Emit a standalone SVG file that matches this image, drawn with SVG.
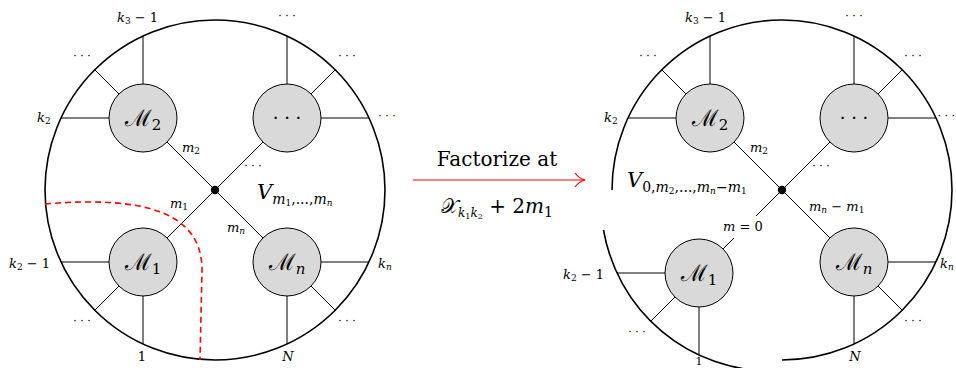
<svg xmlns="http://www.w3.org/2000/svg" width="956" height="368" viewBox="0 0 956 368" font-family="'DejaVu Serif', serif">
<defs>
<style>
.big{fill:none;stroke:#000;stroke-width:1.6}
.nd{fill:#d9d9d9;stroke:#000;stroke-width:1}
.ln{stroke:#000;stroke-width:1;fill:none}
text{font-family:'DejaVu Serif',serif;fill:#000}
.s{font-size:13px}
.i{font-style:italic}
.cal{font-size:23px}
.dots{font-size:11px;text-anchor:middle}
</style>
<marker id="ah" viewBox="0 0 12 16" refX="11" refY="8" markerWidth="12" markerHeight="16" markerUnits="userSpaceOnUse" orient="auto">
<path d="M1,1 C4,5 7,7 11,8 C7,9 4,11 1,15" fill="none" stroke="#f00" stroke-width="1.2"/>
</marker>
</defs>
<rect width="956" height="368" fill="#fff"/>

<!-- LEFT DIAGRAM -->
<g id="left-boundary"><circle class="big" cx="215" cy="190" r="170"/></g>
<g id="left-connectors">
<path class="ln" d="M143,84V36M109,118H61M118.96,93.96L94.8,69.8M167.04,142.04L215,190"/>
<path class="ln" d="M287,84V36M321,118H369M311.04,93.96L335.2,69.8M262.96,142.04L215,190"/>
<path class="ln" d="M109,262H61M143,296V344M118.96,286.04L94.8,310.2M167.04,237.96L215,190"/>
<path class="ln" d="M321,262H369M287,296V344M311.04,286.04L335.2,310.2M262.96,237.96L215,190"/>
<path d="M45,204 C150,195 202,215 202,270 L200,360" fill="none" stroke="#f00" stroke-width="1.6" stroke-dasharray="6,4"/>
</g>
<g id="left-vertex"><circle cx="215" cy="190" r="4.2" fill="#000"/></g>
<g id="left-M2"><circle class="nd" cx="143" cy="118" r="34"/><text x="143" y="126" text-anchor="middle"><tspan class="cal">ℳ</tspan><tspan font-size="15" dy="4">2</tspan></text></g>
<g id="left-Mdots"><circle class="nd" cx="287" cy="118" r="34"/><text x="287" y="124" text-anchor="middle" font-size="18">· · ·</text></g>
<g id="left-M1"><circle class="nd" cx="143" cy="262" r="34"/><text x="143" y="270" text-anchor="middle"><tspan class="cal">ℳ</tspan><tspan font-size="15" dy="4">1</tspan></text></g>
<g id="left-Mn"><circle class="nd" cx="287" cy="262" r="34"/><text x="287" y="270" text-anchor="middle"><tspan class="cal">ℳ</tspan><tspan font-size="15" dy="4" class="i">n</tspan></text></g>
<g id="left-labels">
<text class="s" x="117" y="22"><tspan class="i">k</tspan><tspan font-size="9" dy="2">3</tspan><tspan dy="-2"> − 1</tspan></text>
<text class="dots" x="287" y="20">· · ·</text>
<text class="dots" x="82" y="60">· · ·</text>
<text class="dots" x="347" y="60">· · ·</text>
<text class="dots" x="387" y="120">· · ·</text>
<text class="dots" x="253" y="170">· · ·</text>
<text class="dots" x="82" y="325">· · ·</text>
<text class="dots" x="347" y="325">· · ·</text>
<text class="s" x="37" y="122"><tspan class="i">k</tspan><tspan font-size="9" dy="2">2</tspan></text>
<text class="s" x="182" y="152"><tspan class="i">m</tspan><tspan font-size="9" dy="2">2</tspan></text>
<text class="s" x="170" y="208"><tspan class="i">m</tspan><tspan font-size="9" dy="2">1</tspan></text>
<text class="s" x="227" y="232"><tspan class="i">m</tspan><tspan font-size="9" dy="2" class="i">n</tspan></text>
<text class="s" x="9" y="268"><tspan class="i">k</tspan><tspan font-size="9" dy="2">2</tspan><tspan dy="-2"> − 1</tspan></text>
<text class="s" x="378" y="268"><tspan class="i">k</tspan><tspan font-size="9" dy="2" class="i">n</tspan></text>
<text class="s" x="142" y="361" text-anchor="middle">1</text>
<text class="s i" x="288" y="361" text-anchor="middle">N</text>
<text x="257" y="199"><tspan class="i" font-size="21">V</tspan><tspan font-size="14" dy="5" class="i">m</tspan><tspan font-size="9" dy="2">1</tspan><tspan font-size="14" dy="-2">,...,</tspan><tspan font-size="14" class="i">m</tspan><tspan font-size="9" dy="2" class="i">n</tspan></text>
</g>

<!-- ARROW -->
<g id="arrow">
<line x1="413" y1="180" x2="585" y2="180" stroke="#f00" stroke-width="1.2" marker-end="url(#ah)"/>
<text x="497" y="166" text-anchor="middle" font-size="20">Factorize at</text>
<text x="497" y="213" text-anchor="middle" font-size="20"><tspan>𝒳</tspan><tspan font-size="12" dy="4" class="i">k</tspan><tspan font-size="8" dy="2">1</tspan><tspan font-size="12" dy="-2" class="i">k</tspan><tspan font-size="8" dy="2">2</tspan><tspan dy="-6"> + 2</tspan><tspan class="i">m</tspan><tspan font-size="14" dy="4">1</tspan></text>
</g>

<!-- RIGHT DIAGRAM -->
<g id="right-boundary">
<path class="big" d="M612,190 A170,170 0 1 1 782,360"/>
<path class="big" d="M603.5,230 A170,170 0 0 0 771,371"/>
</g>
<g id="right-connectors">
<path class="ln" d="M710,84V36M676,118H628M685.96,93.96L661.8,69.8M734.04,142.04L782,190"/>
<path class="ln" d="M854,84V36M888,118H936M878.04,93.96L902.2,69.8M829.96,142.04L782,190"/>
<path class="ln" d="M665,273H617M699,307V355M674.96,297.04L650.8,321.2M723.04,248.96L734,238M756,216L782,190"/>
<path class="ln" d="M888,262H936M854,296V344M878.04,286.04L902.2,310.2M829.96,237.96L782,190"/>
</g>
<g id="right-vertex"><circle cx="782" cy="190" r="4.2" fill="#000"/></g>
<g id="right-M2"><circle class="nd" cx="710" cy="118" r="34"/><text x="710" y="126" text-anchor="middle"><tspan class="cal">ℳ</tspan><tspan font-size="15" dy="4">2</tspan></text></g>
<g id="right-Mdots"><circle class="nd" cx="854" cy="118" r="34"/><text x="854" y="124" text-anchor="middle" font-size="18">· · ·</text></g>
<g id="right-M1"><circle class="nd" cx="699" cy="273" r="34"/><text x="699" y="281" text-anchor="middle"><tspan class="cal">ℳ</tspan><tspan font-size="15" dy="4">1</tspan></text></g>
<g id="right-Mn"><circle class="nd" cx="854" cy="262" r="34"/><text x="854" y="270" text-anchor="middle"><tspan class="cal">ℳ</tspan><tspan font-size="15" dy="4" class="i">n</tspan></text></g>
<g id="right-labels">
<text class="s" x="685" y="22"><tspan class="i">k</tspan><tspan font-size="9" dy="2">3</tspan><tspan dy="-2"> − 1</tspan></text>
<text class="dots" x="854" y="20">· · ·</text>
<text class="dots" x="648" y="60">· · ·</text>
<text class="dots" x="913" y="60">· · ·</text>
<text class="dots" x="955" y="120" style="text-anchor:end">· · ·</text>
<text class="dots" x="821" y="170">· · ·</text>
<text class="dots" x="637" y="336">· · ·</text>
<text class="dots" x="913" y="325">· · ·</text>
<text class="s" x="604" y="122"><tspan class="i">k</tspan><tspan font-size="9" dy="2">2</tspan></text>
<text class="s" x="750" y="152"><tspan class="i">m</tspan><tspan font-size="9" dy="2">2</tspan></text>
<text class="s" x="809" y="211"><tspan class="i">m</tspan><tspan font-size="9" dy="2" class="i">n</tspan><tspan dy="-2"> − </tspan><tspan class="i">m</tspan><tspan font-size="9" dy="2">1</tspan></text>
<text class="s" x="723" y="231"><tspan class="i">m</tspan> = 0</text>
<text class="s" x="563" y="279"><tspan class="i">k</tspan><tspan font-size="9" dy="2">2</tspan><tspan dy="-2"> − 1</tspan></text>
<text class="s" x="940" y="268"><tspan class="i">k</tspan><tspan font-size="9" dy="2" class="i">n</tspan></text>
<text x="699" y="365" text-anchor="middle" font-size="11">1</text>
<text class="s i" x="855" y="361" text-anchor="middle">N</text>
<text x="627" y="187"><tspan class="i" font-size="21">V</tspan><tspan font-size="14" dy="5">0,</tspan><tspan font-size="14" class="i">m</tspan><tspan font-size="9" dy="2">2</tspan><tspan font-size="14" dy="-2">,...,</tspan><tspan font-size="14" class="i">m</tspan><tspan font-size="9" dy="2" class="i">n</tspan><tspan font-size="14" dy="-2">−</tspan><tspan font-size="14" class="i">m</tspan><tspan font-size="9" dy="2">1</tspan></text>
</g>
</svg>
